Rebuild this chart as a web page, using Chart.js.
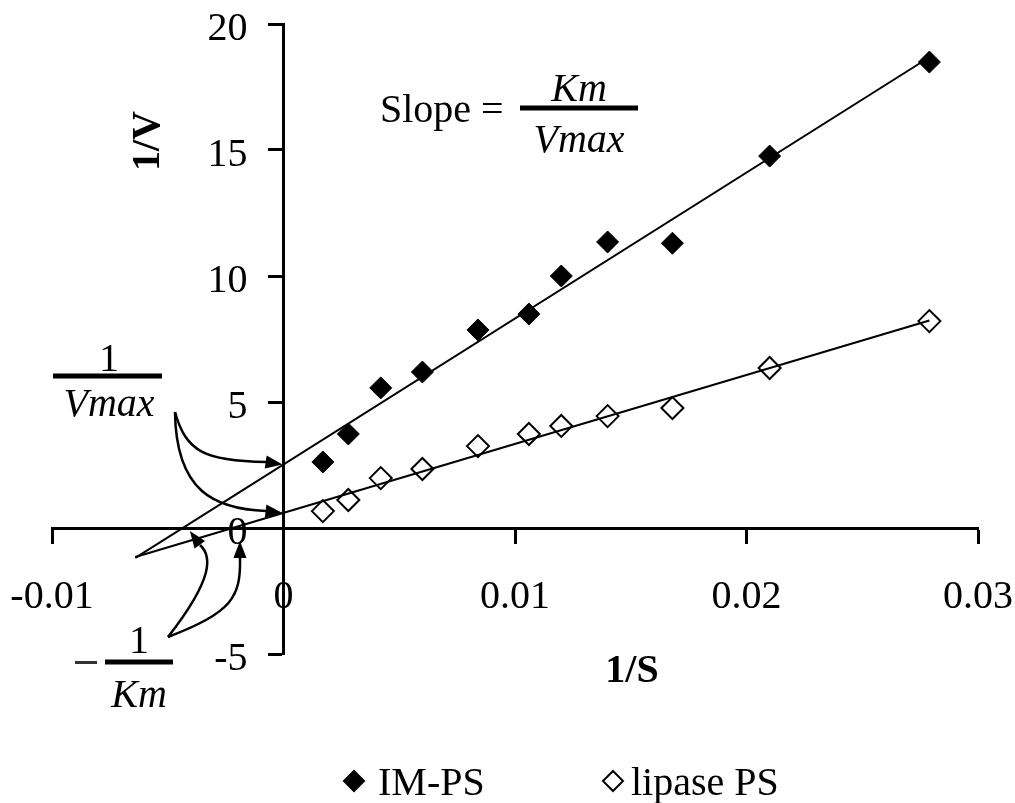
<!DOCTYPE html>
<html>
<head>
<meta charset="utf-8">
<title>Lineweaver-Burk plot</title>
<script src="https://cdn.jsdelivr.net/npm/chart.js@4.4.0/dist/chart.umd.min.js"></script>
<style>
  html, body { margin: 0; padding: 0; background: #fff; }
  #wrap { width: 1015px; height: 803px; }
</style>
</head>
<body>
<div id="wrap"><canvas id="lbChart" width="1015" height="803"></canvas></div>
<script>
// 1/S values shared by both enzymes
const INV_S = [0.0017, 0.0028, 0.0042, 0.006, 0.0084, 0.0106, 0.012, 0.014, 0.0168, 0.021, 0.0279];
// 1/V for each preparation
const IM_PS = [2.62, 3.73, 5.56, 6.19, 7.86, 8.49, 10.0, 11.35, 11.3, 14.76, 18.49];
const LIPASE_PS = [0.67, 1.11, 1.98, 2.34, 3.25, 3.73, 4.05, 4.44, 4.76, 6.35, 8.21];

const SERIES_NAMES = ['IM-PS', 'lipase PS'];
const X_TICKS = [-0.01, 0, 0.01, 0.02, 0.03];
const Y_TICKS = [-5, 0, 5, 10, 15, 20];

// trend lines are extended back past the y axis to this 1/S
const TREND_FROM = -0.0064;

const SERIF = "'Liberation Serif', 'Times New Roman', serif";

// least squares straight line
function fitLine(xs, ys) {
  const n = xs.length;
  const mx = xs.reduce((a, v) => a + v, 0) / n;
  const my = ys.reduce((a, v) => a + v, 0) / n;
  let sxy = 0, sxx = 0;
  xs.forEach((x, i) => {
    sxy += (x - mx) * (ys[i] - my);
    sxx += (x - mx) * (x - mx);
  });
  const m = sxy / sxx;
  return { m, b: my - m * mx };
}

function toPoints(xs, ys) {
  return xs.map((x, i) => ({ x, y: ys[i] }));
}

function trendPoints(fit) {
  const xEnd = INV_S[INV_S.length - 1];
  return [
    { x: TREND_FROM, y: fit.m * TREND_FROM + fit.b },
    { x: xEnd, y: fit.m * xEnd + fit.b }
  ];
}

const imFit = fitLine(INV_S, IM_PS);
const lipaseFit = fitLine(INV_S, LIPASE_PS);

function arrow(ctx, p0, c1, c2, p3, tip) {
  ctx.beginPath();
  ctx.moveTo(p0[0], p0[1]);
  ctx.bezierCurveTo(c1[0], c1[1], c2[0], c2[1], p3[0], p3[1]);
  ctx.stroke();

  const dx = tip[0] - p3[0], dy = tip[1] - p3[1];
  const len = Math.hypot(dx, dy);
  const ux = dx / len, uy = dy / len;
  const headLen = 17, headW = 6.5;
  const bx = tip[0] - ux * headLen, by = tip[1] - uy * headLen;
  ctx.beginPath();
  ctx.moveTo(tip[0], tip[1]);
  ctx.lineTo(bx - uy * headW, by + ux * headW);
  ctx.lineTo(bx + uy * headW, by - ux * headW);
  ctx.closePath();
  ctx.fill();
}

function fraction(ctx, top, bottom, cx, barLeft, barRight, barY, topBase, bottomBase, topItalic) {
  ctx.textAlign = 'center';
  ctx.textBaseline = 'alphabetic';
  ctx.font = (topItalic ? 'italic ' : '') + '40px ' + SERIF;
  ctx.fillText(top, cx, topBase);
  ctx.font = 'italic 40px ' + SERIF;
  ctx.fillText(bottom, cx, bottomBase);
  ctx.fillRect(barLeft, barY - 2.5, barRight - barLeft, 5);
}

// y tick labels sit left of the tick marks (the y axis crosses at x = 0)
const yLabels = {
  id: 'yLabels',
  afterDraw(chart) {
    const ctx = chart.ctx;
    const ys = chart.scales.y;
    const x = chart.scales.x.getPixelForValue(0) - 36;
    ctx.save();
    ctx.fillStyle = '#000';
    ctx.font = '40px ' + SERIF;
    ctx.textAlign = 'right';
    ctx.textBaseline = 'middle';
    Y_TICKS.forEach(v => ctx.fillText(String(v), x, ys.getPixelForValue(v) + 5));
    ctx.restore();
  }
};

// formula, intercept labels, curved arrows, axis titles and legend
const annotations = {
  id: 'annotations',
  afterDraw(chart) {
    const ctx = chart.ctx;
    const xs = chart.scales.x, ys = chart.scales.y;
    ctx.save();
    ctx.fillStyle = '#000';
    ctx.strokeStyle = '#000';

    // axis titles
    ctx.font = 'bold 40px ' + SERIF;
    ctx.textAlign = 'center';
    ctx.textBaseline = 'middle';
    ctx.fillText('1/S', 632, 672);
    ctx.save();
    ctx.translate(149, 141);
    ctx.rotate(-Math.PI / 2);
    ctx.fillText('1/V', 0, 0);
    ctx.restore();

    // Slope = Km / Vmax
    ctx.font = '40px ' + SERIF;
    ctx.textAlign = 'left';
    ctx.textBaseline = 'alphabetic';
    ctx.fillText('Slope =', 380, 122);
    fraction(ctx, 'Km', 'Vmax', 579, 520, 638, 108, 101, 152, true);

    // 1 / Vmax
    fraction(ctx, '1', 'Vmax', 109, 53, 162, 376, 371, 416, false);

    // - 1 / Km
    fraction(ctx, '1', 'Km', 139, 105, 173, 662, 653, 707, false);
    ctx.fillStyle = '#333';
    ctx.fillRect(75, 661, 22, 3);
    ctx.fillStyle = '#000';

    // arrows onto the intercepts
    const x0 = xs.getPixelForValue(0);
    ctx.lineWidth = 2.5;
    arrow(ctx, [175, 412], [186, 452], [205, 461], [266, 462],
      [x0 - 1, ys.getPixelForValue(imFit.b)]);
    arrow(ctx, [175, 412], [176, 492], [215, 509], [266, 511],
      [x0 - 1, ys.getPixelForValue(lipaseFit.b)]);
    arrow(ctx, [168, 637], [214, 578], [212, 556], [200, 545],
      [xs.getPixelForValue(-imFit.b / imFit.m) + 7, 531]);
    arrow(ctx, [168, 637], [232, 612], [241, 598], [240, 557],
      [xs.getPixelForValue(-lipaseFit.b / lipaseFit.m) + 7, 541]);

    // legend
    const legendY = 781;
    const items = [
      { label: SERIES_NAMES[0], mx: 354, tx: 378, fill: '#000' },
      { label: SERIES_NAMES[1], mx: 613, tx: 631, fill: '#fff' }
    ];
    items.forEach(item => {
      ctx.fillStyle = item.fill;
      ctx.strokeStyle = '#000';
      ctx.lineWidth = 2;
      Chart.helpers.drawPoint(ctx, { pointStyle: 'rectRot', radius: 10, borderWidth: 2 }, item.mx, legendY);
      ctx.fillStyle = '#000';
      ctx.font = '40px ' + SERIF;
      ctx.textAlign = 'left';
      ctx.textBaseline = 'alphabetic';
      ctx.fillText(item.label, item.tx, legendY + 14);
    });

    ctx.restore();
  }
};

const axisCommon = {
  type: 'linear',
  grid: {
    display: true,
    drawOnChartArea: false,
    drawTicks: true,
    tickLength: 14,
    tickWidth: 3,
    tickColor: '#000'
  },
  border: { display: true, color: '#000', width: 3 }
};

const ctx = document.getElementById('lbChart').getContext('2d');
const lbChart = new Chart(ctx, {
  type: 'scatter',
  data: {
    datasets: [
      {
        label: SERIES_NAMES[0],
        data: toPoints(INV_S, IM_PS),
        pointStyle: 'rectRot',
        pointRadius: 11,
        pointBackgroundColor: '#000',
        pointBorderColor: '#000',
        pointBorderWidth: 1,
        order: 1
      },
      {
        label: SERIES_NAMES[1],
        data: toPoints(INV_S, LIPASE_PS),
        pointStyle: 'rectRot',
        pointRadius: 11,
        pointBackgroundColor: '#fff',
        pointBorderColor: '#000',
        pointBorderWidth: 2,
        order: 1
      },
      {
        type: 'line',
        label: 'IM-PS trend',
        data: trendPoints(imFit),
        borderColor: '#000',
        borderWidth: 2,
        pointRadius: 0,
        fill: false,
        order: 0
      },
      {
        type: 'line',
        label: 'lipase PS trend',
        data: trendPoints(lipaseFit),
        borderColor: '#000',
        borderWidth: 2,
        pointRadius: 0,
        fill: false,
        order: 0
      }
    ]
  },
  options: {
    responsive: false,
    animation: false,
    devicePixelRatio: 1,
    layout: { padding: { left: 52, right: 37, top: 24, bottom: 149 } },
    plugins: {
      legend: { display: false },
      tooltip: { enabled: false }
    },
    scales: {
      x: {
        ...axisCommon,
        position: { y: 0 },
        min: -0.01,
        max: 0.03,
        afterBuildTicks: scale => { scale.ticks = X_TICKS.map(v => ({ value: v })); },
        // end labels may hang past the plot edges without shrinking it
        afterFit: scale => { scale.paddingLeft = 0; scale.paddingRight = 0; },
        ticks: {
          autoSkip: false,
          maxRotation: 0,
          padding: 31,
          color: '#000',
          font: { family: SERIF, size: 40 },
          callback: v => String(v)
        }
      },
      y: {
        ...axisCommon,
        position: { x: 0 },
        min: -5,
        max: 20,
        afterBuildTicks: scale => { scale.ticks = Y_TICKS.map(v => ({ value: v })); },
        ticks: { display: false }
      }
    }
  },
  plugins: [yLabels, annotations]
});
</script>
</body>
</html>
